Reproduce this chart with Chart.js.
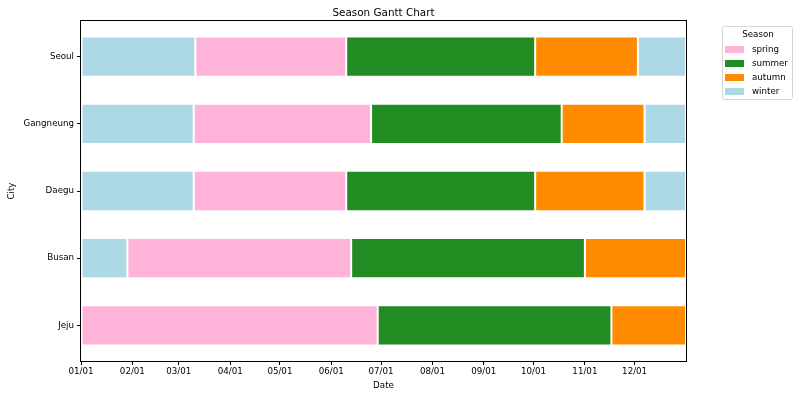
<!DOCTYPE html>
<html><head><meta charset="utf-8">
<script src="https://cdn.jsdelivr.net/npm/chart.js@4"></script>
<style>html,body{margin:0;padding:0;background:#fff}#wrap{width:800px;height:397px}</style>
</head><body><div id="wrap"><canvas id="c" width="800" height="397"></canvas></div>
<script>
// ---------- DATA ----------
const cities = ['Seoul', 'Gangneung', 'Daegu', 'Busan', 'Jeju'];
const seasonNames = ['spring', 'summer', 'autumn', 'winter'];
const seasonColors = ['#ffb3d9', '#228b22', '#ff8c00', '#add8e6'];
const winterEarly = [['2023-01-01','2023-03-11'], ['2023-01-01','2023-03-10'], ['2023-01-01','2023-03-10'], ['2023-01-01','2023-01-29'], null];
const spring      = [['2023-03-11','2023-06-10'], ['2023-03-10','2023-06-25'], ['2023-03-10','2023-06-10'], ['2023-01-29','2023-06-13'], ['2023-01-01','2023-06-29']];
const summer      = [['2023-06-10','2023-10-02'], ['2023-06-25','2023-10-18'], ['2023-06-10','2023-10-02'], ['2023-06-13','2023-11-01'], ['2023-06-29','2023-11-17']];
const autumn      = [['2023-10-02','2023-12-03'], ['2023-10-18','2023-12-07'], ['2023-10-02','2023-12-07'], ['2023-11-01','2024-01-01'], ['2023-11-17','2024-01-01']];
const winterLate  = [['2023-12-03','2024-01-01'], ['2023-12-07','2024-01-01'], ['2023-12-07','2024-01-01'], null, null];
const monthTickDates = ['2023-01-01','2023-02-01','2023-03-01','2023-04-01','2023-05-01','2023-06-01','2023-07-01','2023-08-01','2023-09-01','2023-10-01','2023-11-01','2023-12-01'];
const monthTickLabels = ['01/01','02/01','03/01','04/01','05/01','06/01','07/01','08/01','09/01','10/01','11/01','12/01'];
const axisStart = '2023-01-01';
const axisEnd = '2024-01-01';

// ---------- HELPERS ----------
const FONT = 'DejaVu Sans';
const FS = 8.7, FS_TITLE = 10.4;
const BAR_FRACTION = 0.6;
const base = Date.parse(axisStart + 'T00:00:00Z');
const day = d => (Date.parse(d + 'T00:00:00Z') - base) / 86400000;
const conv = arr => arr.map(p => p ? [day(p[0]), day(p[1])] : null);
const tickVals = monthTickDates.map(day);

function ds(label, arr, colorIdx) {
  return {
    label, data: conv(arr),
    backgroundColor: seasonColors[colorIdx],
    borderColor: '#ffffff', borderWidth: 1, borderSkipped: false,
    grouped: false, categoryPercentage: 1.0, barPercentage: BAR_FRACTION
  };
}

// category axis limits like matplotlib: bar extent plus 5% margin
const yMarginPlugin = {
  id: 'yMargin',
  afterLayout(chart) {
    const y = chart.scales.y;
    const n = cities.length;
    const lo = -BAR_FRACTION / 2, hi = n - 1 + BAR_FRACTION / 2;
    const m = 0.05 * (hi - lo);
    y._startValue = lo - m;
    y._valueRange = (hi - lo) + 2 * m;
  }
};

const framePlugin = {
  id: 'frame',
  afterDatasetsDraw(chart) {
    const {ctx, chartArea: a} = chart;
    ctx.save();
    ctx.strokeStyle = '#000'; ctx.lineWidth = 1;
    ctx.strokeRect(Math.round(a.left) - 0.5, Math.round(a.top) - 0.5, Math.round(a.right - a.left) + 1, Math.round(a.bottom - a.top) + 1);
    ctx.restore();
  }
};

const titleLegendPlugin = {
  id: 'titleLegend',
  afterDraw(chart) {
    const {ctx, chartArea: a} = chart;
    ctx.save();
    ctx.fillStyle = '#000';
    ctx.font = FS_TITLE + 'px "' + FONT + '"';
    ctx.textAlign = 'center'; ctx.textBaseline = 'middle';
    ctx.fillText('Season Gantt Chart', (a.left + a.right) / 2, 13);
    // legend box
    const bx = 722, by = 26, bw = 70, bh = 73;
    ctx.beginPath();
    if (ctx.roundRect) ctx.roundRect(bx + 0.5, by + 0.5, bw, bh, 2); else ctx.rect(bx + 0.5, by + 0.5, bw, bh);
    ctx.fillStyle = 'rgba(255,255,255,0.8)'; ctx.fill();
    ctx.strokeStyle = '#d6d6d6'; ctx.lineWidth = 1; ctx.stroke();
    ctx.fillStyle = '#000';
    ctx.font = FS + 'px "' + FONT + '"';
    ctx.textAlign = 'center';
    ctx.fillText('Season', 758, 35);
    ctx.textAlign = 'left';
    seasonNames.forEach((n, i) => {
      const cy = 49 + i * 14;
      ctx.fillStyle = seasonColors[i];
      ctx.fillRect(725, cy - 3, 19, 7);
      ctx.fillStyle = '#000';
      ctx.fillText(n, 752, cy + 0.5);
    });
    ctx.restore();
  }
};

new Chart(document.getElementById('c'), {
  type: 'bar',
  data: {
    labels: cities,
    datasets: [
      ds('winter', winterEarly, 3),
      ds('spring', spring, 0),
      ds('summer', summer, 1),
      ds('autumn', autumn, 2),
      ds('winter', winterLate, 3)
    ]
  },
  options: {
    indexAxis: 'y', responsive: false, animation: false, devicePixelRatio: 1,
    layout: { padding: { left: 0, right: 114, top: 21, bottom: 0 } },
    plugins: { legend: { display: false }, title: { display: false }, tooltip: { enabled: false } },
    scales: {
      x: {
        type: 'linear', min: 0, max: day(axisEnd),
        afterBuildTicks: s => { s.ticks = tickVals.map(v => ({ value: v })); },
        afterFit: s => { s.height = 36; },
        ticks: {
          autoSkip: false, maxRotation: 0, color: '#000', padding: 2,
          font: { family: FONT, size: FS },
          callback: v => { const i = tickVals.indexOf(v); return i >= 0 ? monthTickLabels[i] : ''; }
        },
        grid: { drawOnChartArea: false, drawTicks: true, tickLength: 4, color: '#000' },
        border: { display: false },
        title: { display: true, text: 'Date', color: '#000', font: { family: FONT, size: FS }, padding: { top: 0, bottom: 6 } }
      },
      y: {
        type: 'category', offset: true,
        afterFit: s => { s.width = 81; },
        ticks: { color: '#000', padding: 3, font: { family: FONT, size: FS } },
        grid: { drawOnChartArea: false, drawTicks: true, tickLength: 4, color: '#000', offset: false },
        border: { display: false },
        title: { display: true, text: 'City', color: '#000', font: { family: FONT, size: FS }, padding: { top: 7, bottom: 0 } }
      }
    }
  },
  plugins: [yMarginPlugin, framePlugin, titleLegendPlugin]
});
</script></body></html>
